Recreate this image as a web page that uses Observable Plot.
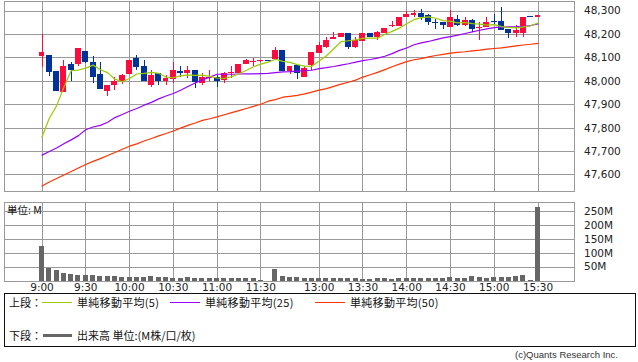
<!DOCTYPE html>
<html><head><meta charset="utf-8">
<script src="https://cdn.jsdelivr.net/npm/d3@7"></script>
<script src="https://cdn.jsdelivr.net/npm/@observablehq/plot@0.6"></script>
<style>
html,body{margin:0;padding:0;background:#fff;}
#wrap{position:relative;width:638px;height:362px;overflow:hidden;font-family:"DejaVu Sans",sans-serif;}
#wrap > svg{position:absolute;left:0;}
.abs{position:absolute;white-space:nowrap;}
.jp{font-family:"Noto Sans CJK JP",sans-serif;font-size:11px;line-height:14px;color:#111;}
.ln{position:absolute;}
</style></head><body><div id="wrap"></div>
<script>
// 5-minute bars, index 0 = 9:00 ... 30 = 11:30, 31 lunch, 32 = 12:30 ... 68 = 15:30
const open  = [48105,48108,48040,47951,48070,48070,48129,48082,48027,47956,47980,47998,48027,48096,48065,47983,48032,48001,48008,48041,48032,48044,47990,48013,48015,48005,48032,48032,48073,48081,48083,48085,48094,48132,48040,48068,48018,48068,48118,48146,48178,48185,48206,48146,48168,48206,48189,48203,48233,48234,48271,48279,48291,48279,48253,48249,48229,48265,48240,48260,48225,48229,48251,48257,48222,48203,48203,48275,48271];
const high  = [48200,48108,48042,48087,48079,48138,48129,48104,48079,47984,48015,48027,48090,48108,48087,48044,48032,48023,48079,48065,48061,48048,48032,48044,48023,48036,48061,48073,48091,48096,48090,48085,48146,48132,48065,48068,48061,48125,48165,48189,48207,48206,48206,48186,48206,48206,48212,48226,48254,48274,48300,48303,48307,48283,48265,48249,48303,48279,48274,48265,48250,48274,48283,48317,48222,48240,48274,48275,48279];
const low   = [48058,48020,47956,47951,48000,48065,48078,47990,47964,47934,47962,47987,48027,48048,47998,47973,47980,47980,47990,48015,48013,47970,47984,48001,47975,47991,48013,48032,48070,48062,48080,48083,48094,48040,48027,48006,48018,48048,48118,48140,48178,48185,48135,48140,48168,48189,48176,48203,48229,48234,48271,48274,48260,48236,48220,48220,48229,48232,48232,48207,48172,48229,48243,48218,48182,48186,48189,48274,48271];
const close = [48121,48037,47956,48065,48044,48138,48079,48018,47964,47984,48001,48023,48090,48058,47998,48023,48001,48011,48044,48034,48044,47994,48015,48018,48001,48032,48036,48073,48087,48084,48085,48083,48132,48040,48065,48034,48055,48125,48154,48175,48185,48206,48143,48175,48206,48189,48209,48226,48236,48274,48286,48291,48274,48250,48246,48236,48274,48240,48260,48220,48227,48253,48249,48218,48203,48215,48274,48274,48279];
const ma5   = [47762,47842,47895,47975,48045,48048,48056,48069,48049,48037,48009,47998,48012,48031,48034,48038,48034,48018,48015,48023,48027,48025,48026,48021,48014,48012,48020,48032,48046,48062,48073,48082,48094,48085,48081,48071,48065,48064,48087,48109,48139,48169,48173,48177,48183,48184,48184,48201,48213,48227,48246,48263,48272,48275,48269,48259,48256,48249,48251,48246,48244,48240,48242,48233,48230,48228,48232,48237,48249];
const ma25  = [47685,47700,47715,47733,47750,47768,47793,47805,47812,47825,47845,47858,47872,47884,47898,47910,47925,47937,47948,47962,47978,47993,48006,48018,48030,48030,48030,48031,48032,48032,48033,48034,48037,48040,48041,48043,48045,48047,48054,48058,48063,48069,48075,48082,48088,48093,48099,48107,48118,48132,48142,48156,48164,48170,48178,48185,48191,48197,48204,48211,48218,48224,48229,48232,48232,48233,48235,48238,48245];
const ma50  = [47553,47570,47585,47600,47615,47630,47645,47658,47670,47683,47696,47710,47723,47733,47745,47756,47767,47777,47788,47800,47812,47822,47833,47840,47848,47857,47866,47875,47884,47893,47902,47915,47922,47932,47936,47940,47946,47954,47962,47969,47978,47988,47996,48005,48018,48028,48038,48050,48062,48073,48084,48092,48097,48104,48110,48115,48120,48123,48126,48130,48133,48137,48140,48143,48147,48151,48155,48158,48162];
const volume = [125,44,37,26,23,19,19,19,15,15,15,12,12,12,12,15,12,12,9,9,12,9,9,9,9,9,9,9,9,9,1,0,41,15,12,12,8,8,8,8,8,8,8,8,5,5,8,8,5,8,8,8,8,8,8,8,12,8,8,15,12,8,12,12,12,15,19,1,263];
const tickIndex  = [0,6,12,18,24,30,38,44,50,56,62,68];
const tickLabels = ["9:00","9:30","10:00","10:30","11:00","11:30","13:00","13:30","14:00","14:30","15:00","15:30"];
const priceTicks = [47600,47700,47800,47900,48000,48100,48200,48300];
const volTicks   = [50,100,150,200,250];

const RED = "#ff0a3c", BLUE = "#003399", GRID = "#9a9a9a";
const C5 = "#99cc00", C25 = "#9900ff", C50 = "#ff3300", VOLC = "#666666";

const bars = open.map((o, i) => {
  const lo = Math.min(o, close[i]), hi = Math.max(o, close[i]);
  return {i, o, h: high[i], l: low[i], c: close[i], up: close[i] > o,
          b1: lo, b2: Math.max(hi, lo + 4.3)};
});
const labelOf = new Map(tickIndex.map((t, k) => [t, tickLabels[k]]));
const xDomain = [-5.2097, 72.935];
const font = {fontFamily: "DejaVu Sans", fontSize: "10.5px", background: "transparent", color: "#222"};

const wrap = document.getElementById("wrap");

const upper = Plot.plot({
  width: 638, height: 192,
  marginLeft: 3.5, marginRight: 64.5, marginTop: 0.5, marginBottom: 1.5,
  style: font,
  x: {type: "linear", domain: xDomain, axis: null},
  y: {domain: [47531.7, 48342.7], axis: null},
  marks: [
    Plot.ruleY(priceTicks, {stroke: GRID, shapeRendering: "crispEdges"}),
    Plot.ruleX(tickIndex, {stroke: GRID, shapeRendering: "crispEdges"}),
    Plot.frame({stroke: GRID, shapeRendering: "crispEdges"}),
    Plot.ruleX(bars, {x: "i", y1: "l", y2: "h", stroke: d => d.up ? RED : BLUE, shapeRendering: "crispEdges"}),
    Plot.rect(bars, {x1: d => d.i - 0.41, x2: d => d.i + 0.41, y1: "b1", y2: "b2", fill: d => d.up ? RED : BLUE, shapeRendering: "crispEdges"}),
    Plot.lineY(ma50, {stroke: C50, strokeWidth: 1.2}),
    Plot.lineY(ma25, {stroke: C25, strokeWidth: 1.2}),
    Plot.lineY(ma5, {stroke: C5, strokeWidth: 1.2}),
    Plot.axisY({anchor: "right", ticks: priceTicks, tickSize: 0, tickPadding: 10, tickFormat: d3.format(","), fill: "#222"})
  ]
});
upper.style.top = "0px";
wrap.appendChild(upper);

const lower = Plot.plot({
  width: 638, height: 98,
  marginLeft: 3.5, marginRight: 64.5, marginTop: 6.5, marginBottom: 12.5,
  style: font,
  x: {type: "linear", domain: xDomain, axis: null},
  y: {domain: [0, 284.2], axis: null},
  marks: [
    Plot.ruleY(volTicks, {stroke: GRID, shapeRendering: "crispEdges"}),
    Plot.ruleX(tickIndex, {stroke: GRID, shapeRendering: "crispEdges"}),
    Plot.frame({stroke: GRID, shapeRendering: "crispEdges"}),
    Plot.rect(volume, {x1: (d, i) => i - 0.34, x2: (d, i) => i + 0.34, y1: 0, y2: d => d, fill: VOLC, shapeRendering: "crispEdges"}),
    Plot.axisY({anchor: "right", ticks: volTicks, tickSize: 0, tickPadding: 10, tickFormat: d => d + "M", fill: "#222"}),
    Plot.axisX({anchor: "bottom", ticks: tickIndex, tickSize: 0, tickPadding: 3, tickFormat: d => labelOf.get(d), fill: "#222"})
  ]
});
lower.style.top = "195px";
wrap.appendChild(lower);

function addText(txt, left, cy, cls, extra) {
  const d = document.createElement("div");
  d.className = "abs " + cls;
  d.textContent = txt;
  d.style.left = left + "px";
  d.style.top = (cy - 7) + "px";
  if (extra) Object.assign(d.style, extra);
  wrap.appendChild(d);
  return d;
}
function addLine(x1, x2, y, h, color) {
  const d = document.createElement("div");
  d.className = "ln";
  Object.assign(d.style, {left: x1 + "px", width: (x2 - x1) + "px", top: (y - h / 2) + "px", height: h + "px", background: color});
  wrap.appendChild(d);
}

addText("単位: M", 7, 209.5, "jp", {fontSize: "10.5px"});

const box = document.createElement("div");
Object.assign(box.style, {position: "absolute", left: "4px", top: "293px", width: "630px", height: "52px", border: "1px solid #111"});
wrap.appendChild(box);

const legendItems = [
  {label: "単純移動平均(5)", color: C5, x: 42},
  {label: "単純移動平均(25)", color: C25, x: 170},
  {label: "単純移動平均(50)", color: C50, x: 315}
];
addText("上段：", 9, 302, "jp");
legendItems.forEach(it => {
  addLine(it.x, it.x + 30, 302, 1, it.color);
  addText(it.label, it.x + 35, 302, "jp", {letterSpacing: "0.3px"});
});
addText("下段：", 9, 335, "jp");
addLine(43, 72, 335, 3, VOLC);
addText("出来高 単位:(M株/口/枚)", 77, 335, "jp");

const copy = document.createElement("div");
copy.className = "abs";
copy.textContent = "(c)Quants Research Inc.";
Object.assign(copy.style, {right: "20px", top: "349px", fontFamily: "Liberation Sans, sans-serif", fontSize: "9.5px", lineHeight: "12px", color: "#333"});
wrap.appendChild(copy);
</script></body></html>
